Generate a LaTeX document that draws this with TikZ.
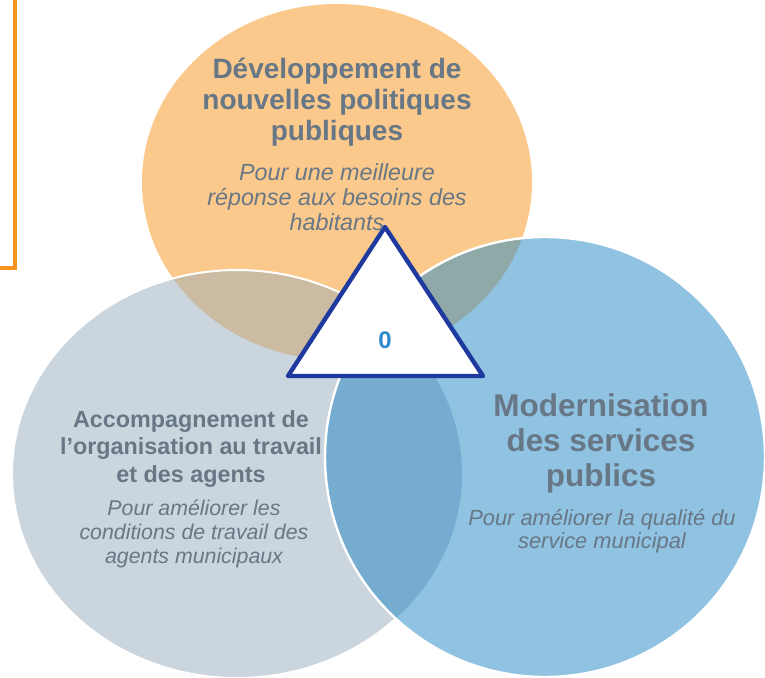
\documentclass[tikz,border=0pt]{standalone}
\usepackage{fontspec}
\setmainfont{Liberation Sans}

\definecolor{orangefill}{RGB}{251,201,139}
\definecolor{greyfill}{RGB}{203,213,222}
\definecolor{bluefill}{RGB}{144,194,226}
\definecolor{orangegrey}{RGB}{204,187,163}
\definecolor{greyblue}{RGB}{117,172,208}
\definecolor{orangeblue}{RGB}{143,169,168}
\definecolor{textgrey}{RGB}{104,119,133}
\definecolor{frameorange}{RGB}{247,148,30}
\definecolor{triblue}{RGB}{31,58,159}
\definecolor{zeroblue}{RGB}{45,138,203}

\tikzset{every picture/.style={line width=0.75pt}}
\tikzset{
  headline/.style={text=textgrey, inner sep=0pt, align=center, font=\bfseries},
  subline/.style={text=textgrey, inner sep=0pt, align=center, font=\itshape},
}

\begin{document}
\begin{tikzpicture}[x=0.75pt,y=0.75pt,yscale=-1,xscale=1]
        \useasboundingbox (0,0) rectangle (765,678);

        %Shape: Frame [id:orangeframe]
        \draw [frameorange, line width=2.4pt] (-10,-10) -- (15,-10) -- (15,268) -- (-10,268) ;

        %Shape: Ellipse [id:orange]
        \fill [orangefill] (337,182) ellipse [x radius=195, y radius=178];
        %Shape: Ellipse [id:grey]
        \fill [greyfill] (237,474) ellipse [x radius=225, y radius=204];
        \begin{scope}
          \clip (237,474) ellipse [x radius=225, y radius=204];
          \fill [orangegrey] (337,182) ellipse [x radius=195, y radius=178];
        \end{scope}
        \draw [white, line width=1.5pt] (237,474) ellipse [x radius=225, y radius=204];
        %Shape: Circle [id:blue]
        \fill [bluefill] (545,457) circle [radius=220];
        \begin{scope}
          \clip (545,457) circle [radius=220];
          \fill [greyblue] (237,474) ellipse [x radius=225, y radius=204];
          \fill [orangeblue] (337,182) ellipse [x radius=195, y radius=178];
        \end{scope}
        \draw [white, line width=1.8pt] (545,457) circle [radius=220];

        %Shape: Triangle [id:centre]
        \coordinate (apex) at (385,227);
        \coordinate (lft) at (288,376);
        \coordinate (rgt) at (483,376);
        \draw [triblue, line width=3.3pt, fill=white, line join=round] (apex) -- (lft) -- (rgt) -- cycle ;

        % Text Node
        \node [headline, font=\bfseries\fontsize{21}{23.25}\selectfont] (politiques) at (337,102) {Développement de\\nouvelles politiques\\publiques};
        % Text Node
        \node [subline, font=\itshape\fontsize{17.5}{18.75}\selectfont] (habitants) at (337,197) {Pour une meilleure\\réponse aux besoins des\\habitants};
        % Text Node
        \node [headline, font=\bfseries\fontsize{17.5}{20.6}\selectfont] (accompagnement) at (191,449) {Accompagnement de\\l’organisation au travail\\et des agents};
        % Text Node
        \node [subline, font=\itshape\fontsize{16}{18}\selectfont] (agents) at (194,534) {Pour améliorer les\\conditions de travail des\\agents municipaux};
        % Text Node
        \node [headline, font=\bfseries\fontsize{23.6}{26.25}\selectfont] (modernisation) at (601,443) {Modernisation\\des services\\publics};
        % Text Node
        \node [subline, font=\itshape\fontsize{16.4}{17.25}\selectfont] (qualite) at (602,531) {Pour améliorer la qualité du\\service municipal};
        % Text Node
        \node [text=zeroblue, inner sep=0pt, font=\bfseries\fontsize{18}{20}\selectfont] (zero) at (385,340) {0};
\end{tikzpicture}
\end{document}
